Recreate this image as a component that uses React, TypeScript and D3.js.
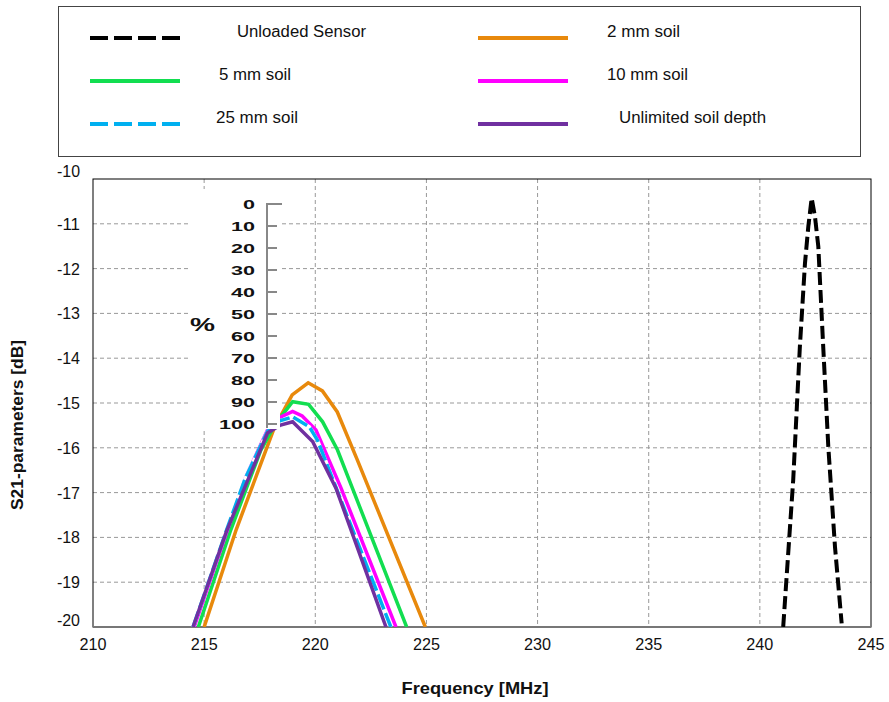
import React from "react";
import * as d3 from "d3";

const xTicks = [210, 215, 220, 225, 230, 235, 240, 245];
const yTicks = [-10, -11, -12, -13, -14, -15, -16, -17, -18, -19, -20];
const pctTicks = ["0", "10", "20", "30", "40", "50", "60", "70", "80", "90", "100"];

const sensorF = [241.05, 241.5, 241.8, 242.03, 242.18, 242.33, 242.48, 242.63, 242.85, 243.08, 243.38, 243.68];
const sensorV = [-20, -16.72, -13.74, -11.88, -11.06, -10.43, -10.84, -11.51, -13.74, -15.98, -18.21, -19.92];

const soil2F = [215.0, 216.44, 218.15, 218.96, 219.68, 220.32, 220.99, 221.89, 224.95];
const soil2V = [-20, -17.83, -15.56, -14.82, -14.55, -14.73, -15.2, -16.27, -20];

const soil5F = [214.74, 216.2, 217.55, 218.2, 218.98, 219.7, 220.33, 221.0, 224.11];
const soil5V = [-20, -17.83, -16.05, -15.47, -14.97, -15.03, -15.42, -16.05, -20];

const soil10F = [214.55, 216.05, 216.88, 217.85, 218.38, 218.98, 219.41, 220.03, 221.16, 223.63];
const soil10V = [-20, -17.83, -16.65, -15.6, -15.33, -15.19, -15.29, -15.6, -16.9, -20];

const soil25F = [214.5, 216.0, 216.85, 217.85, 218.4, 218.98, 219.73, 220.1, 221.1, 223.4];
const soil25V = [-20, -17.85, -16.68, -15.63, -15.4, -15.31, -15.53, -15.83, -17.1, -20];

const soilUF = [214.5, 216.0, 217.85, 218.4, 218.98, 219.88, 220.93, 223.18];
const soilUV = [-20, -17.87, -15.67, -15.5, -15.42, -15.86, -16.9, -20];

const seriesNames = ["Unloaded Sensor", "2 mm soil", "5 mm soil", "10 mm soil", "25 mm soil", "Unlimited soil depth"];

const W = 889, H = 702;
const L = 93, R = 871, T = 179, B = 627;

export default function App() {
  const x = d3.scaleLinear().domain([210, 245]).range([L, R]);
  const y = d3.scaleLinear().domain([-10, -20]).range([T, B]);
  const line = d3.line<[number, number]>().x(d => x(d[0])).y(d => y(d[1]));
  const mk = (f: number[], v: number[]) => line(f.map((ff, i) => [ff, v[i]] as [number, number])) || "";

  const series = [
    { name: seriesNames[1], d: mk(soil2F, soil2V), color: "#E8890C", dash: null },
    { name: seriesNames[2], d: mk(soil5F, soil5V), color: "#12DE50", dash: null },
    { name: seriesNames[3], d: mk(soil10F, soil10V), color: "#FF00FF", dash: null },
    { name: seriesNames[4], d: mk(soil25F, soil25V), color: "#00B0F0", dash: "16 4" },
    { name: seriesNames[5], d: mk(soilUF, soilUV), color: "#7030A0", dash: null },
    { name: seriesNames[0], d: mk(sensorF, sensorV), color: "#000000", dash: "13 5" },
  ];

  const legendItems = [
    { name: seriesNames[0], color: "#000000", dash: "18 6", lx: 90, tx: 237, tw: 129, row: 0 },
    { name: seriesNames[1], color: "#E8890C", dash: null, lx: 478, tx: 607, tw: 73, row: 0 },
    { name: seriesNames[2], color: "#12DE50", dash: null, lx: 90, tx: 219, tw: 72, row: 1 },
    { name: seriesNames[3], color: "#FF00FF", dash: null, lx: 478, tx: 607, tw: 81, row: 1 },
    { name: seriesNames[4], color: "#00B0F0", dash: "18 6", lx: 90, tx: 216, tw: 82, row: 2 },
    { name: seriesNames[5], color: "#7030A0", dash: null, lx: 478, tx: 619, tw: 147, row: 2 },
  ];

  const pctY = d3.scaleLinear().domain([0, 100]).range([204, 424]);
  const font = "Liberation Sans, Arial, sans-serif";

  return (
    <svg width={W} height={H} style={{ position: "absolute", left: 0, top: 0, background: "#fff" }} fontFamily={font}>
      <rect x={0} y={0} width={W} height={H} fill="#fff" />
      {/* legend */}
      <rect x={58.5} y={6.5} width={802} height={150} fill="#fff" stroke="#444" strokeWidth={1} />
      {legendItems.map((it, i) => {
        const ly = 38 + it.row * 43;
        return (
          <g key={i}>
            <line x1={it.lx} x2={it.lx + 90} y1={ly} y2={ly} stroke={it.color} strokeWidth={4} strokeDasharray={it.dash || undefined} />
            <text x={it.tx} y={ly - 1} fontSize={16} fill="#111" textLength={it.tw} lengthAdjust="spacingAndGlyphs">{it.name}</text>
          </g>
        );
      })}

      {/* grid */}
      {xTicks.slice(1, -1).map(t => (
        <line key={"gx" + t} x1={x(t)} x2={x(t)} y1={T} y2={B} stroke="#999" strokeWidth={1} strokeDasharray="4 3" />
      ))}
      {yTicks.slice(1, -1).map(t => (
        <line key={"gy" + t} x1={L} x2={R} y1={y(t)} y2={y(t)} stroke="#999" strokeWidth={1} strokeDasharray="4 3" />
      ))}
      <rect x={L} y={T} width={R - L} height={B - T} fill="none" stroke="#000" strokeWidth={1} />
      <line x1={L} x2={R} y1={B} y2={B} stroke="#777" strokeWidth={2} />

      <defs>
        <clipPath id="plotclip">
          <rect x={L} y={T - 5} width={R - L} height={B - T + 5} />
        </clipPath>
      </defs>
      <g clipPath="url(#plotclip)">
        {series.map((s, i) => (
          <g key={i}>
            {s.dash && s.color !== "#000000" && (
              <path d={s.d} fill="none" stroke="#fff" strokeWidth={3.5} />
            )}
            <path d={s.d} fill="none" stroke={s.color} strokeWidth={s.color === "#000000" ? 4 : 3.5}
              strokeDasharray={s.dash || undefined} strokeLinejoin="miter" />
          </g>
        ))}
      </g>

      {/* inset % axis */}
      <rect x={188} y={189} width={92} height={240} fill="#fff" />
      <line x1={267} x2={267} y1={pctY(0)} y2={pctY(100) + 4} stroke="#888" strokeWidth={2} />
      {pctTicks.map((t, i) => {
        const v = +t;
        const yy = pctY(v);
        return (
          <g key={"p" + i}>
            <line x1={266} x2={v === 0 ? 282 : 277} y1={yy} y2={yy} stroke="#888" strokeWidth={2} />
            <text x={255} y={yy + 4.5} fontSize={12.5} fontWeight="bold" textAnchor="end" fill="#111"
              textLength={t.length * 12} lengthAdjust="spacingAndGlyphs">{t}</text>
          </g>
        );
      })}
      <text x={190} y={331} fontSize={18} fontWeight="bold" fill="#111" textLength={25} lengthAdjust="spacingAndGlyphs">%</text>

      {/* axes labels */}
      {yTicks.map((t, i) => {
        let yy = y(t) + 6;
        if (i === 0) yy -= 8;
        if (i === yTicks.length - 1) yy -= 7;
        return <text key={"yl" + t} x={80} y={yy} fontSize={16} textAnchor="end" fill="#111" textLength={t === -10 ? 23 : String(t).length * 7.7} lengthAdjust="spacingAndGlyphs">{t}</text>;
      })}
      {xTicks.map(t => (
        <text key={"xl" + t} x={x(t)} y={650} fontSize={16} textAnchor="middle" fill="#111" textLength={27} lengthAdjust="spacingAndGlyphs">{t}</text>
      ))}
      <text x={475} y={694} fontSize={17} fontWeight="bold" textAnchor="middle" fill="#111" textLength={147} lengthAdjust="spacingAndGlyphs">Frequency [MHz]</text>
      <text transform={`translate(23,425) rotate(-90)`} fontSize={16.5} fontWeight="bold" textAnchor="middle" fill="#111" textLength={170} lengthAdjust="spacingAndGlyphs">S21-parameters [dB]</text>
    </svg>
  );
}
